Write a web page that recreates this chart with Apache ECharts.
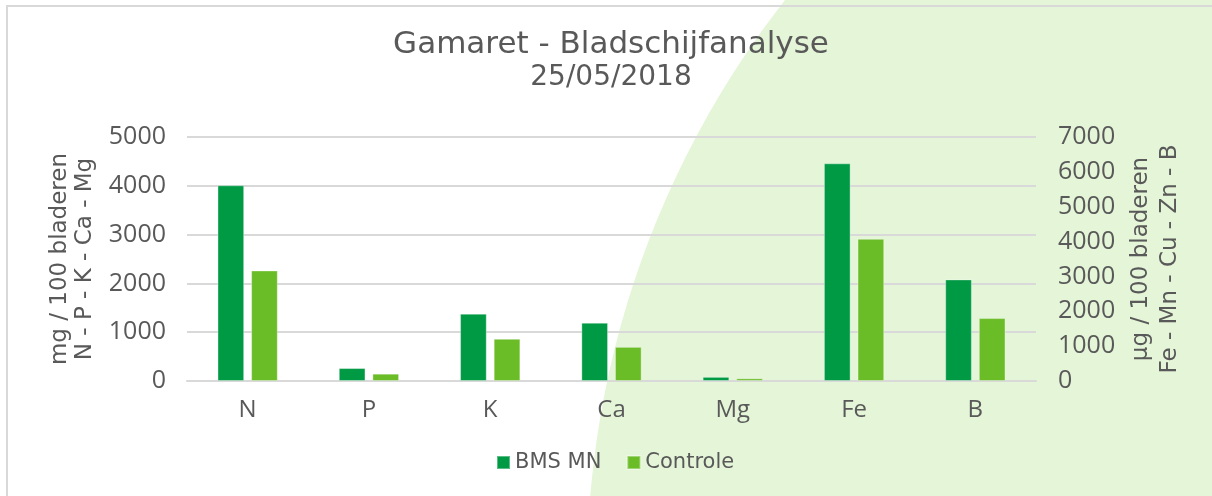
<!DOCTYPE html>
<html>
<head>
<meta charset="utf-8">
<title>Gamaret - Bladschijfanalyse</title>
<script src="https://cdn.jsdelivr.net/npm/echarts@6/dist/echarts.min.js"></script>
<style>
  html, body { margin: 0; padding: 0; background: #fff; }
  #chart { width: 1212px; height: 496px; }
</style>
</head>
<body>
<div id="chart"></div>
<script>
// categorieën (macro op linker as, sporenelementen op rechter as)
const categories = ["N", "P", "K", "Ca", "Mg", "Fe", "B"];

// mg / 100 bladeren
const bmsMain = [4010, 265, 1380, 1195, 85, null, null];
const controleMain = [2265, 150, 865, 700, 55, null, null];

// µg / 100 bladeren
const bmsTrace = [null, null, null, null, null, 6245, 2915];
const controleTrace = [null, null, null, null, null, 4080, 1805];

const leftTicks = { min: 0, max: 5000, interval: 1000 };
const rightTicks = { min: 0, max: 7000, interval: 1000 };

const textColor = "#595959";
const font = "'Open Sans', sans-serif";
const wideFont = "'DejaVu Sans', sans-serif";
const colorBms = "#009a44";
const colorControle = "#6bbd28";

let myChart = echarts.init(document.getElementById("chart"));

function barSeries(name, data, color, axisIdx) {
  return {
    name: name,
    type: "bar",
    xAxisIndex: axisIdx,
    yAxisIndex: axisIdx,
    data: data,
    barWidth: "22%",
    barGap: "26%",
    itemStyle: {
      color: color,
      borderColor: "rgba(255,255,255,0.35)",
      borderWidth: 1,
    },
  };
}

// geen duizendtalscheiding
function plainNumber(value) {
  return String(value);
}

let option = {
  backgroundColor: "#ffffff",
  textStyle: { fontFamily: font, color: textColor },
  graphic: [
    {
      // lichtgroene achtergrondcirkel
      type: "circle",
      z: -10,
      silent: true,
      shape: { cx: 1518, cy: 574, r: 931 },
      style: { fill: "#e5f5d8" },
    },
    {
      // kader
      type: "rect",
      z: 100,
      silent: true,
      shape: { x: 7, y: 6, width: 1400, height: 700 },
      style: { fill: "none", stroke: "#d9d9d9", lineWidth: 2 },
    },
  ],
  title: {
    text: "Gamaret - Bladschijfanalyse",
    subtext: "25/05/2018",
    left: 606,
    textAlign: "center",
    top: 24,
    itemGap: 4,
    textStyle: {
      fontFamily: wideFont,
      fontSize: 31,
      lineHeight: 31,
      fontWeight: "normal",
      color: textColor,
    },
    subtextStyle: {
      fontFamily: wideFont,
      fontSize: 28,
      lineHeight: 28,
      color: textColor,
    },
  },
  legend: {
    data: ["BMS MN", "Controle"],
    left: 491,
    top: 447,
    icon: "rect",
    itemWidth: 13,
    itemHeight: 13,
    itemGap: 25,
    textStyle: { fontFamily: wideFont, fontSize: 21, color: textColor },
  },
  grid: {
    left: 187,
    right: 176,
    top: 137,
    bottom: 115,
    containLabel: false,
    outerBoundsMode: "none",
  },
  xAxis: [
    {
      type: "category",
      data: categories,
      axisTick: { show: false },
      axisLine: { lineStyle: { color: "#d9d9d9", width: 2 } },
      axisLabel: { fontFamily: font, fontSize: 24, color: textColor, margin: 17 },
    },
    {
      // onzichtbare tweede as zodat de rechter reeksen hun eigen plaats krijgen
      type: "category",
      data: categories,
      show: false,
    },
  ],
  yAxis: [
    {
      type: "value",
      min: leftTicks.min,
      max: leftTicks.max,
      interval: leftTicks.interval,
      position: "left",
      name: "mg / 100 bladeren\nN - P - K - Ca - Mg",
      nameLocation: "middle",
      nameRotate: 90,
      nameGap: 81,
      nameTextStyle: { fontFamily: wideFont, fontSize: 23, color: textColor, lineHeight: 25 },
      axisLine: { show: false },
      axisTick: { show: false },
      axisLabel: { fontFamily: font, fontSize: 25, color: textColor, margin: 21, formatter: plainNumber },
      splitLine: { lineStyle: { color: "#d9d9d9", width: 2 } },
    },
    {
      type: "value",
      min: rightTicks.min,
      max: rightTicks.max,
      interval: rightTicks.interval,
      position: "right",
      name: "µg / 100 bladeren\nFe - Mn - Cu - Zn - B",
      nameLocation: "middle",
      nameRotate: 90,
      nameGap: 85,
      nameTextStyle: { fontFamily: wideFont, fontSize: 23, color: textColor, lineHeight: 29 },
      axisLine: { show: false },
      axisTick: { show: false },
      axisLabel: { fontFamily: font, fontSize: 25, color: textColor, margin: 22, formatter: plainNumber },
      splitLine: { show: false },
    },
  ],
  series: [
    barSeries("BMS MN", bmsMain, colorBms, 0),
    barSeries("Controle", controleMain, colorControle, 0),
    barSeries("BMS MN", bmsTrace, colorBms, 1),
    barSeries("Controle", controleTrace, colorControle, 1),
  ],
};

option && myChart.setOption(option);
</script>
</body>
</html>
